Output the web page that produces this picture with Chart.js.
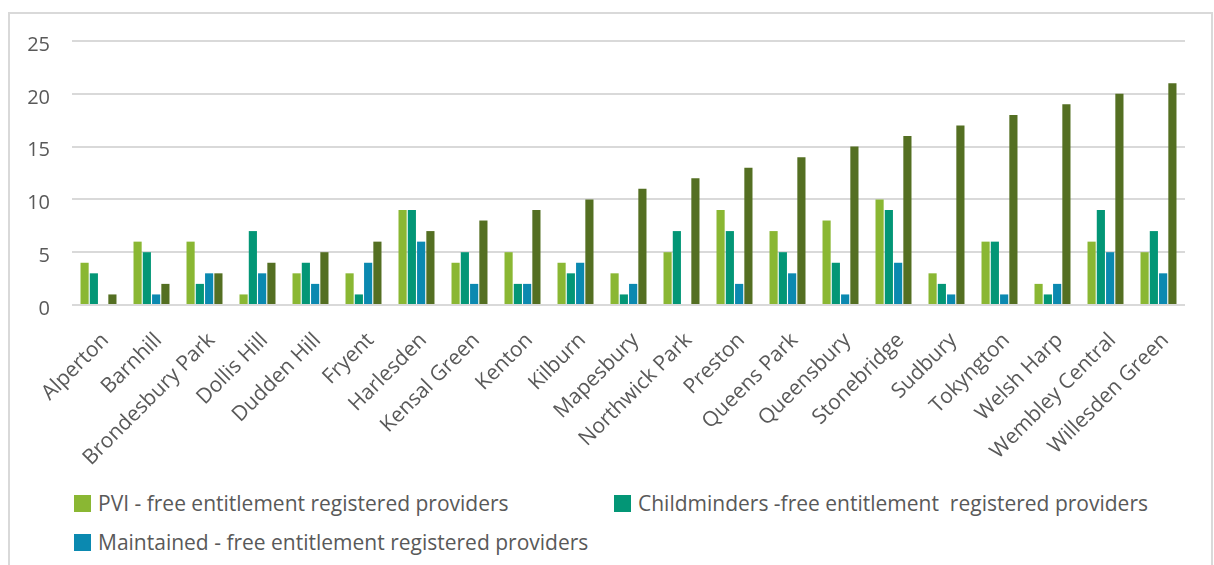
<!DOCTYPE html>
<html>
<head>
<meta charset="utf-8">
<script src="https://cdn.jsdelivr.net/npm/chart.js@4.4.1/dist/chart.umd.min.js"></script>
<style>
  html, body { margin: 0; padding: 0; background: #ffffff; }
  body { width: 1214px; height: 565px; position: relative; overflow: hidden; font-family: "Open Sans", sans-serif; }
  #frame { position: absolute; left: 8px; top: 12px; width: 1205px; height: 600px; border: 2px solid #d9d9d9; box-sizing: border-box; }
  #wrap { position: absolute; left: 0; top: 0; width: 1214px; height: 480px; }
  .leg { position: absolute; display: flex; align-items: center; font-size: 21px; line-height: 24px; color: #595959; white-space: pre; }
  .leg i { display: inline-block; width: 17px; height: 17px; margin-right: 7px; }
</style>
</head>
<body>
<div id="frame"></div>
<div id="wrap"><canvas id="c" width="1214" height="480"></canvas></div>
<div id="legend"></div>
<script>
const categories = ["Alperton","Barnhill","Brondesbury Park","Dollis Hill","Dudden Hill","Fryent","Harlesden","Kensal Green","Kenton","Kilburn","Mapesbury","Northwick Park","Preston","Queens Park","Queensbury","Stonebridge","Sudbury","Tokyngton","Welsh Harp","Wembley Central","Willesden Green"];
const pviValues        = [4,6,6,1,3,3,9,4,5,4,3,5,9,7,8,10,3,6,2,6,5];
const childminderValues= [3,5,2,7,4,1,9,5,2,3,1,7,7,5,4,9,2,6,1,9,7];
const maintainedValues = [0,1,3,3,2,4,6,2,2,4,2,0,2,3,1,4,1,1,2,5,3];
const wardNumberValues = [1,2,3,4,5,6,7,8,9,10,11,12,13,14,15,16,17,18,19,20,21];
const yTicks = [0,5,10,15,20,25];
const seriesNames = ["PVI - free entitlement registered providers","Childminders -free entitlement  registered providers","Maintained - free entitlement registered providers",""];
const colors = ["#8ab733","#039676","#0b89b0","#546f22"];

const seriesData = [pviValues, childminderValues, maintainedValues, wardNumberValues];

new Chart(document.getElementById('c'), {
  type: 'bar',
  data: {
    labels: categories,
    datasets: seriesData.map((d, i) => ({
      label: seriesNames[i],
      data: d,
      backgroundColor: colors[i],
      borderWidth: 0,
      categoryPercentage: 0.7,
      barPercentage: 0.88
    }))
  },
  options: {
    responsive: false,
    animation: false,
    layout: { padding: { left: 0, right: 29, top: 41, bottom: 0 } },
    plugins: { legend: { display: false }, tooltip: { enabled: false } },
    scales: {
      x: {
        grid: { display: false },
        border: { display: false },
        ticks: {
          color: '#595959',
          font: { family: 'Open Sans', size: 21 },
          minRotation: 45, maxRotation: 45,
          padding: 15,
          labelOffset: 7,
          autoSkip: false
        },
        afterFit: (s) => { s.height = 175; }
      },
      y: {
        min: 0, max: 25,
        afterBuildTicks: (s) => { s.ticks = yTicks.map(v => ({ value: v })); },
        grid: { color: '#d9d9d9', lineWidth: 2, drawTicks: false },
        border: { display: false },
        ticks: {
          color: '#595959',
          font: { family: 'Open Sans', size: 20 },
          padding: 22,
          labelOffset: 4
        },
        afterFit: (s) => { s.width = 72; }
      }
    }
  }
});

const legendPos = [[74, 494], [614, 494], [74, 533]];
const legendEl = document.getElementById('legend');
legendPos.forEach((p, i) => {
  const d = document.createElement('div');
  d.className = 'leg';
  d.style.left = p[0] + 'px';
  d.style.top = (p[1] - 3) + 'px';
  d.innerHTML = '<i style="background:' + colors[i] + '"></i><span></span>';
  d.querySelector('span').textContent = seriesNames[i];
  legendEl.appendChild(d);
});
</script>
</body>
</html>
